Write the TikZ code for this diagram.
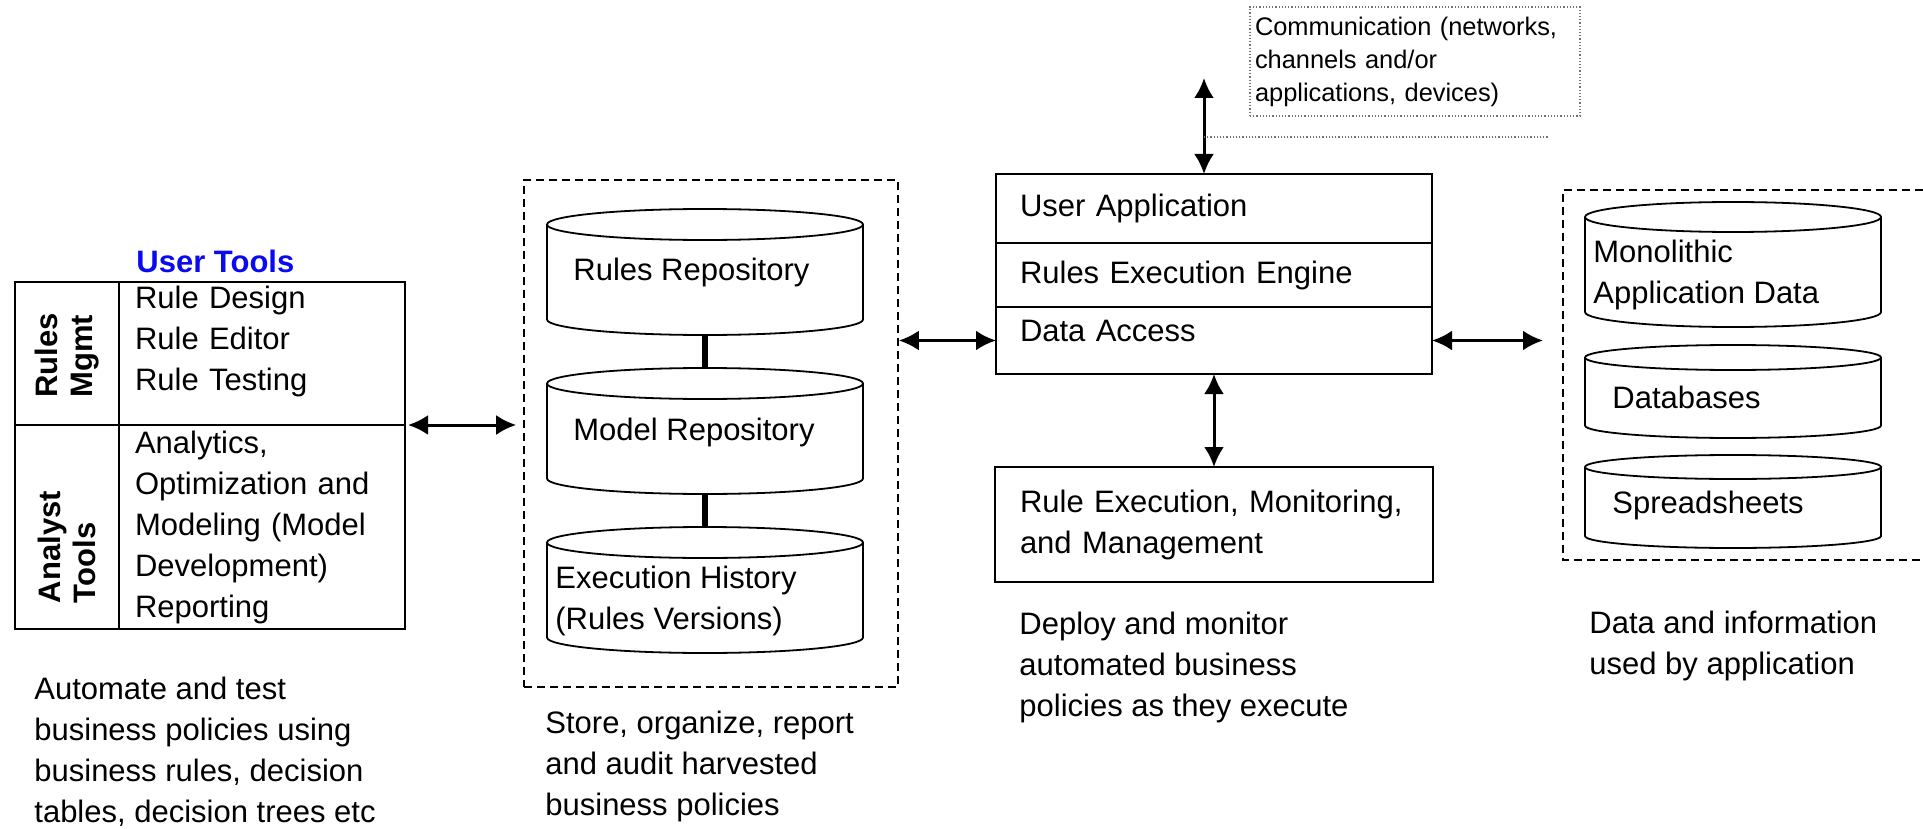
\documentclass[tikz,border=0pt]{standalone}
\usepackage{fontspec}
\setmainfont{Liberation Sans}
\usetikzlibrary{positioning,arrows.meta}

\definecolor{titleblue}{RGB}{10,10,240}

\tikzset{
    txt/.style      = {font=\fontsize{15.5}{20.5}\selectfont},
    cell/.style     = {draw, txt, line width=1.1pt, inner sep=0pt, outer sep=0pt},
    sidecell/.style = {cell, rotate=90, align=left,
                       font=\bfseries\fontsize{15.5}{17.5}\selectfont},
    itemcell/.style = {cell, align=left, text width=127pt, minimum width=143pt},
    row/.style      = {cell, minimum width=218pt, text width=194pt, align=left},
    store/.style    = {draw, line width=0.9pt},
    label/.style    = {txt, anchor=west, inner sep=0pt, align=left},
    groupbox/.style = {draw, dash pattern=on 4pt off 2.5pt, line width=0.8pt},
    commbox/.style  = {draw=black!55, densely dotted, line width=0.6pt, align=left,
                       font=\fontsize{12.7}{16.5}\selectfont, inner sep=0pt},
    dotline/.style  = {draw=black!55, densely dotted, line width=0.6pt},
    biarrow/.style  = {{Latex[length=10pt,width=10pt]}-{Latex[length=10pt,width=10pt]},
                       line width=1.5pt},
    link/.style     = {line width=3pt},
}

% a data store drum: name, centre x, centre y, width, height, cap radius
\newcommand{\drum}[6]{%
    \node[minimum width=#4, minimum height=#5, inner sep=0pt, outer sep=0pt] (#1) at (#2,#3) {};
    \draw[store] ([yshift=-#6]#1.north) ellipse [x radius=#4/2, y radius=#6];
    \draw[store] ([yshift=-#6]#1.north west) -- ([yshift=#6]#1.south west)
        arc [start angle=180, end angle=360, x radius=#4/2, y radius=#6]
        -- ([yshift=-#6]#1.north east);
}

\begin{document}
\begin{tikzpicture}[x=0.5pt, y=-0.5pt]
    \useasboundingbox (0,0) rectangle (1923,829);

    % user tools table
    \node[anchor=west, inner sep=0pt, text=titleblue,
          font=\bfseries\fontsize{15.5}{18}\selectfont] (usertools) at (136,261) {User Tools};
    \node[sidecell, minimum width=71.5pt, minimum height=52pt, text width=44pt] (mgmtlbl) at (67,353.5) {Rules\\Mgmt};
    \node[sidecell, minimum width=102pt, minimum height=52pt, text width=76pt] (analystlbl) at (67,527) {Analyst\\Tools};
    \node[itemcell, minimum height=71.5pt, text depth=56pt] (mgmtitems) at (262,353.5)
        {Rule Design\\Rule Editor\\Rule Testing};
    \node[itemcell, minimum height=102pt] (analystitems) at (262,527)
        {Analytics,\\Optimization and\\Modeling (Model\\Development)\\Reporting};

    % repository group
    \node[groupbox, minimum width=187pt, minimum height=253.5pt] (repo) at (711,433.5) {};
    \drum{rules}{705}{272}{158pt}{63pt}{7.75pt}
    \drum{models}{705}{431}{158pt}{63pt}{7.75pt}
    \drum{history}{705}{590}{158pt}{63pt}{7.75pt}
    \draw[link] (rules.south) -- (models.north);
    \draw[link] (models.south) -- (history.north);
    \node[label] (rulestxt) at (573,272) {Rules Repository};
    \node[label] (modelstxt) at (573,432) {Model Repository};
    \node[label] (historytxt) at (555,601) {Execution History\\(Rules Versions)};

    % application stack
    \node[row, minimum height=34.5pt] (ua) at (1214,208.5) {User Application};
    \node[row, minimum height=32pt, below=0pt of ua] (ree) {Rules Execution Engine};
    \node[row, minimum height=33.5pt, text depth=9.5pt, below=0pt of ree] (da) {Data Access};
    \node[row, minimum width=219pt, minimum height=57.5pt, below=46.5pt of da] (rem)
        {Rule Execution, Monitoring,\\and Management};

    % communication
    \node[commbox, minimum width=165pt, minimum height=54.5pt, text width=160pt] (comm) at (1415,61.5)
        {Communication (networks,\\channels and/or\\applications, devices)};
    \coordinate (commtip) at (1204,78);
    \coordinate (dotend) at (1548,137);
    \draw[biarrow] (commtip) -- (commtip |- ua.north);
    \draw[dotline] (dotend -| commtip) -- (dotend);

    % data group, open on the right
    \node[minimum width=180pt, minimum height=185pt, inner sep=0pt, outer sep=0pt] (data) at (1743,375) {};
    \draw[groupbox] (data.north east) -| (data.south west) -- (data.south east);
    \drum{mono}{1733}{264.5}{148pt}{62.5pt}{7.5pt}
    \drum{dbs}{1733}{391.5}{148pt}{46.5pt}{6.25pt}
    \drum{sheets}{1733}{501.5}{148pt}{46.5pt}{6pt}
    \node[label] (monotxt) at (1593,275) {Monolithic\\Application Data};
    \node[label] (dbstxt) at (1612,397) {Databases};
    \node[label] (sheetstxt) at (1612,505) {Spreadsheets};

    % connectors
    \draw[biarrow, shorten <=1.5pt, shorten >=3.5pt] (mgmtitems.south east) -- (mgmtitems.south east -| repo.west);
    \draw[biarrow] (repo.east |- da.west) -- (da.west);
    \draw[biarrow, shorten >=10pt] (da.east) -- (da.east -| data.west);
    \draw[biarrow] (da.south) -- (rem.north);

    % captions
    \node[label] (toolscap) at (34,752)
        {Automate and test\\business policies using\\business rules, decision\\tables, decision trees etc};
    \node[label] (repocap) at (545,766) {Store, organize, report\\and audit harvested\\business policies};
    \node[label] (remcap) at (1019,667) {Deploy and monitor\\automated business\\policies as they execute};
    \node[label] (datacap) at (1589,646) {Data and information\\used by application};
\end{tikzpicture}
\end{document}
